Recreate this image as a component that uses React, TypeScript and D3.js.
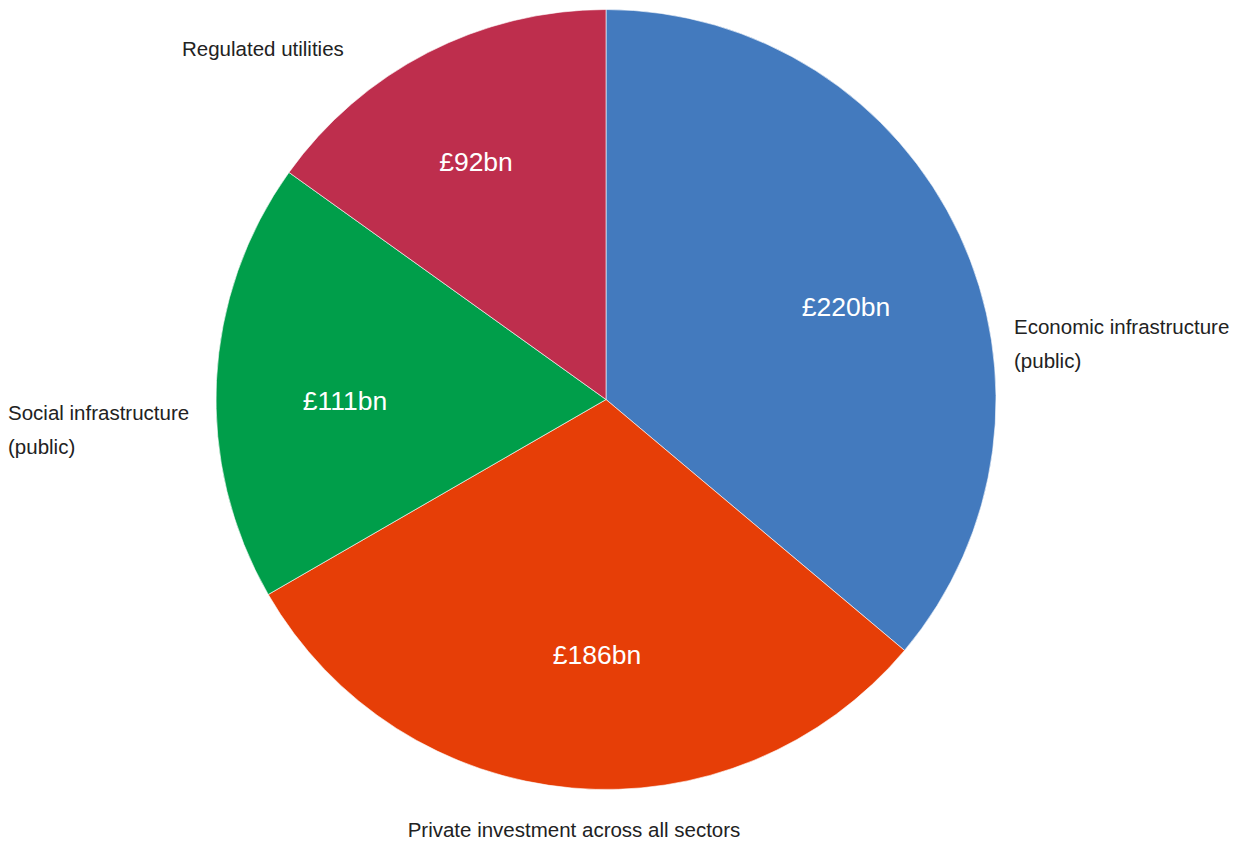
import React from "react";
import * as d3 from "d3";

const categories = [
  "Economic infrastructure (public)",
  "Private investment across all sectors",
  "Social infrastructure (public)",
  "Regulated utilities",
];
const values = [220, 186, 111, 92];
const valueLabels = ["£220bn", "£186bn", "£111bn", "£92bn"];
const colors = ["#437ABE", "#E63E07", "#009E4A", "#BE2E4D"];

// label layout (offsets from pie center), not data
const outerLabels = [
  { lines: ["Economic infrastructure", "(public)"], dx: 408, dy: -66, anchor: "start" },
  { lines: ["Private investment across all sectors"], dx: -32, dy: 437, anchor: "middle" },
  { lines: ["Social infrastructure", "(public)"], dx: -598, dy: 20, anchor: "start" },
  { lines: ["Regulated utilities"], dx: -424, dy: -344, anchor: "start" },
];
const innerOffsets = [
  [240, -93],
  [-9, 255],
  [-261, 1],
  [-130, -238],
];

export default function App() {
  const W = 1241, H = 841;
  const cx = 606, cy = 399.5, R = 390;
  const pie = d3.pie<number>().sort(null).value((d) => d);
  const arcs = pie(values);
  const arc = d3.arc<d3.PieArcDatum<number>>().innerRadius(0).outerRadius(R);
  const font = "'Liberation Sans', Arial, Helvetica, sans-serif";
  return (
    <div style={{ position: "absolute", left: 0, top: 0 }}>
      <svg width={W} height={H} style={{ display: "block" }}>
        <rect width={W} height={H} fill="#fff" />
        <g transform={`translate(${cx},${cy})`}>
          {arcs.map((a, i) => (
            <path key={categories[i]} d={arc(a) || ""} fill={colors[i]} stroke="#fff" strokeWidth={1} strokeOpacity={0.6} />
          ))}
          {arcs.map((a, i) => (
            <text
              key={"v" + i}
              x={innerOffsets[i][0]}
              y={innerOffsets[i][1]}
              textAnchor="middle"
              dominantBaseline="central"
              fill="#fff"
              fontFamily={font}
              fontSize={26.5}
            >
              {valueLabels[i]}
            </text>
          ))}
          {outerLabels.map((l, i) => (
            <text key={"o" + i} x={l.dx} y={l.dy} textAnchor={l.anchor as any} fill="#222" fontFamily={font} fontSize={20.5}>
              {l.lines.map((t, j) => (
                <tspan key={j} x={l.dx} dy={j === 0 ? 0 : 34}>
                  {t}
                </tspan>
              ))}
            </text>
          ))}
        </g>
      </svg>
    </div>
  );
}
